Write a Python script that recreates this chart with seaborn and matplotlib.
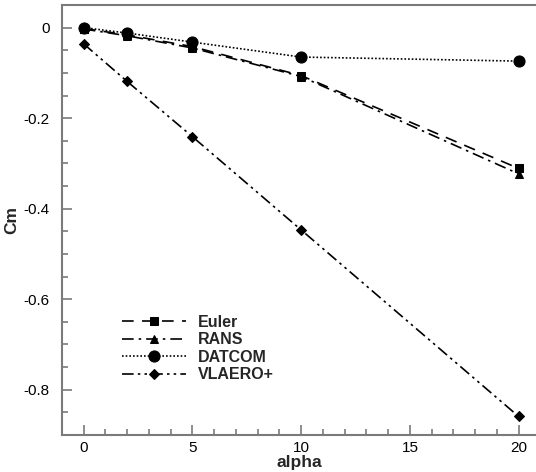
import matplotlib
matplotlib.use("Agg")
import matplotlib.pyplot as plt
from matplotlib.ticker import MultipleLocator, FuncFormatter
import seaborn as sns

sns.set_style("ticks")
plt.rcParams["font.family"] = ["Liberation Sans", "DejaVu Sans"]

# Pitching-moment coefficient vs. angle of attack
alpha = [0, 2, 5, 10, 20]
cm_euler = [-0.002, -0.016, -0.042, -0.106, -0.311]
cm_rans = [-0.003, -0.018, -0.045, -0.108, -0.323]
cm_datcom = [0.0, -0.012, -0.032, -0.065, -0.074]
cm_vlaero = [-0.036, -0.119, -0.241, -0.447, -0.859]

series = [
    ("Euler", cm_euler, "s", 5.5, (0, (7, 5))),
    ("RANS", cm_rans, "^", 6, (0, (7, 3, 1.5, 3))),
    ("DATCOM", cm_datcom, "o", 8, (0, (1, 1.2))),
    ("VLAERO+", cm_vlaero, "D", 5.5, (0, (7, 2.5, 1.5, 2.5, 1.5, 2.5))),
]

fig = plt.figure(figsize=(5.36, 4.72), dpi=100)
ax = fig.add_axes([62 / 536, 1 - 435 / 472, 1 - 62 / 536, (435 - 5) / 472])

for name, vals, mk, ms, ls in series:
    sns.lineplot(x=alpha, y=vals, ax=ax, color="black", marker=mk,
                 markersize=ms, markeredgecolor="black", linewidth=1.2,
                 linestyle=ls, label=name)

ax.set_xlim(-1, 20.8)
ax.set_ylim(-0.9, 0.05)
ax.xaxis.set_major_locator(MultipleLocator(5))
ax.xaxis.set_minor_locator(MultipleLocator(1))
ax.yaxis.set_major_locator(MultipleLocator(0.2))
ax.yaxis.set_minor_locator(MultipleLocator(0.05))
ax.yaxis.set_major_formatter(FuncFormatter(
    lambda v, p: "0" if abs(v) < 1e-9 else f"{v:.1f}"))

spine_col = "#7a7a7a"
for s in ["left", "bottom", "top"]:
    ax.spines[s].set_color(spine_col)
    ax.spines[s].set_linewidth(1.5)
ax.spines["right"].set_visible(False)

ax.tick_params(which="both", direction="in", color=spine_col, width=1.2,
               labelsize=11, labelcolor="black")
ax.tick_params(which="major", length=7)
ax.tick_params(which="minor", length=4)
ax.tick_params(axis="x", which="both", top=False, pad=4)
ax.tick_params(axis="y", pad=9)

ax.set_xlabel("alpha", fontsize=12.5, fontweight="bold", labelpad=0)
ax.set_ylabel("Cm", fontsize=12.5, fontweight="bold", labelpad=3)

leg = ax.legend(loc="upper left", bbox_to_anchor=(0.114, 0.294), frameon=False,
                handlelength=4.0, handletextpad=0.7, labelspacing=0.15,
                borderaxespad=0,
                prop={"weight": "bold", "size": 11.5})

fig.savefig("out.png", dpi=100)
